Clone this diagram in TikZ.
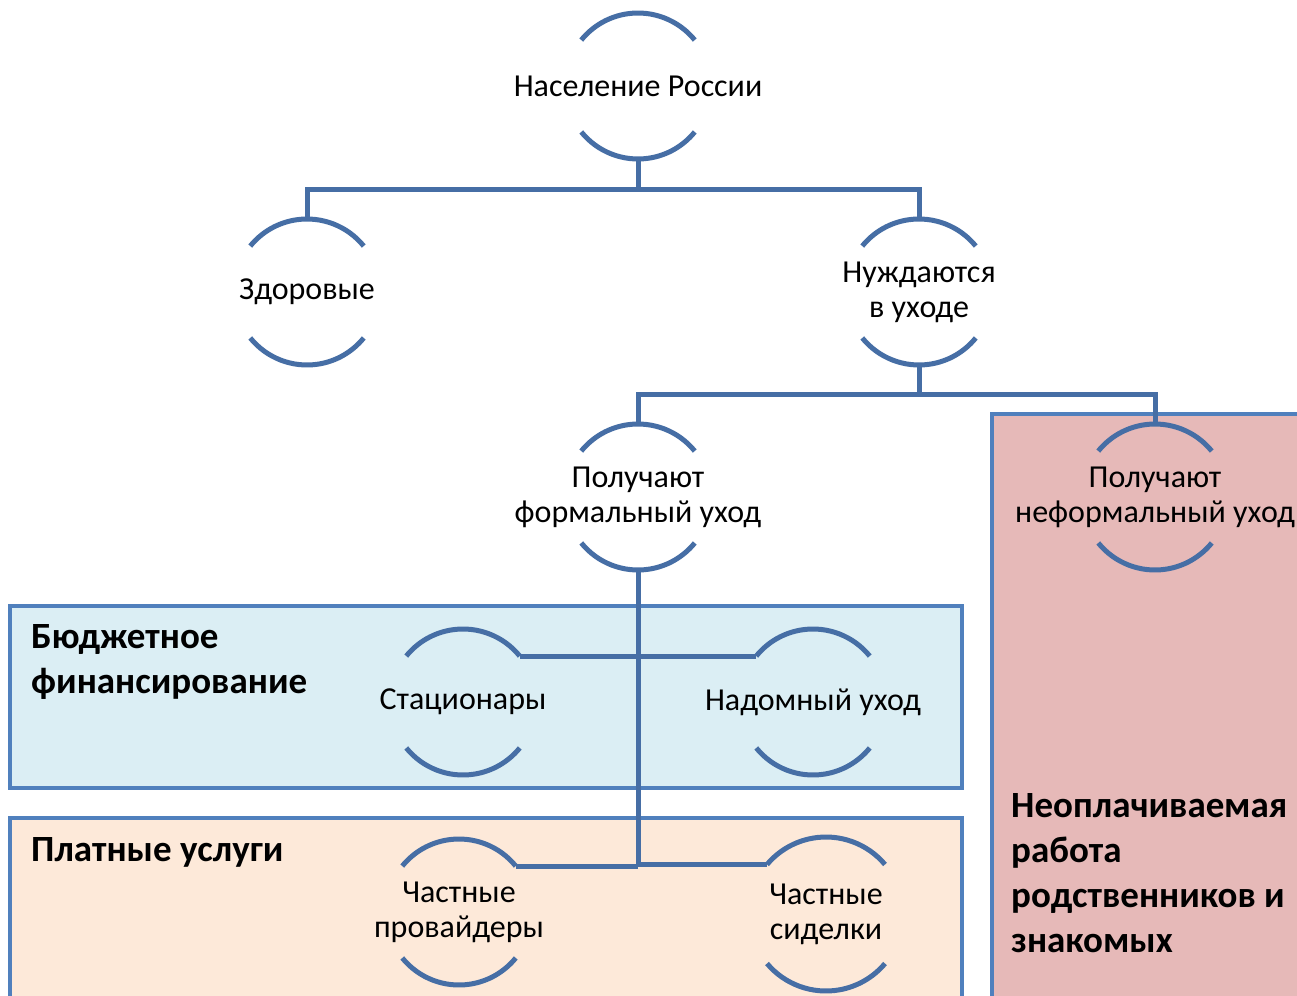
\documentclass[tikz,border=0pt]{standalone}
\usepackage{fontspec}
\setmainfont{Carlito}
\definecolor{connc}{RGB}{70,110,165}
\definecolor{boxline}{RGB}{80,128,189}
\definecolor{bluefill}{RGB}{219,238,244}
\definecolor{peachfill}{RGB}{253,233,217}
\definecolor{pinkfill}{RGB}{230,185,184}
\tikzset{
  ring/.style={circle, minimum size=146pt, inner sep=0pt, outer sep=0pt},
  bigring/.style={circle, minimum size=154pt, inner sep=0pt, outer sep=0pt},
  lbl/.style={align=center, font=\fontsize{32}{35}\selectfont, inner sep=0pt},
  head/.style={align=left, font=\fontsize{37}{45}\selectfont\bfseries, inner sep=0pt, anchor=west},
  conn/.style={draw=connc, line width=5pt},
  arcline/.style={draw=connc, line width=5pt},
  panel/.style={draw=boxline, line width=4pt},
}
\newcommand\halfarcs[3]{%
  \draw[arcline] (#1.#3) arc[start angle=#3, end angle={180-#3}, radius=#2];
  \draw[arcline] (#1.{180+#3}) arc[start angle={180+#3}, end angle={360-#3}, radius=#2];}
\begin{document}
\begin{tikzpicture}[x=1pt,y=-1pt]
\useasboundingbox (0,0) rectangle (1297,995);
\clip (0,0) rectangle (1297,995);
\fill[white] (0,0) rectangle (1297,995);
% panels
\draw[panel, fill=bluefill] (10,606) rectangle (962,788);
\draw[panel, fill=peachfill] (10,818) rectangle (962,1010);
\draw[panel, fill=pinkfill] (992,414) rectangle (1320,1010);
\node[head] (budget) at (31,662) {Бюджетное\\финансирование};
\node[head] (paid) at (31,852) {Платные услуги};
\node[head] (unpaid) at (1011,873) {Неоплачиваемая\\работа\\родственников и\\знакомых};
% rings
\node[ring] (pop) at (638,86) {};
\node[ring] (zdor) at (307,292) {};
\node[ring] (need) at (919,292) {};
\node[ring] (form) at (638,497) {};
\node[ring] (inform) at (1155,497) {};
\node[ring] (stat) at (463,702) {};
\node[ring] (home) at (813,702) {};
\node[ring] (prov) at (459,912) {};
\node[bigring] (sid) at (826,914) {};
% labels
\node[lbl] at (pop) {Население России};
\node[lbl] at (zdor) {Здоровые};
\node[lbl] at (need) {Нуждаются\\в уходе};
\node[lbl] at (form) {Получают\\формальный уход};
\node[lbl] at (inform) {Получают\\неформальный уход};
\node[lbl] at (stat) {Стационары};
\node[lbl] at (home) {Надомный уход};
\node[lbl] at (prov) {Частные\\провайдеры};
\node[lbl] at (sid) {Частные\\сиделки};
% connectors
\coordinate (j1) at (638,189);
\coordinate (j2) at (919,394);
\draw[conn] (pop.south) -- (j1);
\draw[conn] (zdor.north) |- (j1) -| (need.north);
\draw[conn] (need.south) -- (j2);
\draw[conn] (form.north) |- (j2) -| (inform.north);
\draw[conn] (form.south) -- (form.south |- sid.140);
\draw[conn] (stat.39) -- (home.141);
\draw[conn] (prov.39) -- (prov.39 -| form.south);
\draw[conn] (form.south |- sid.140) -- (sid.140);
% arcs
\halfarcs{pop}{73pt}{39}
\halfarcs{zdor}{73pt}{39}
\halfarcs{need}{73pt}{39}
\halfarcs{form}{73pt}{39}
\halfarcs{inform}{73pt}{39}
\halfarcs{stat}{73pt}{39}
\halfarcs{home}{73pt}{39}
\halfarcs{prov}{73pt}{39}
\halfarcs{sid}{77pt}{40}
\end{tikzpicture}
\end{document}
